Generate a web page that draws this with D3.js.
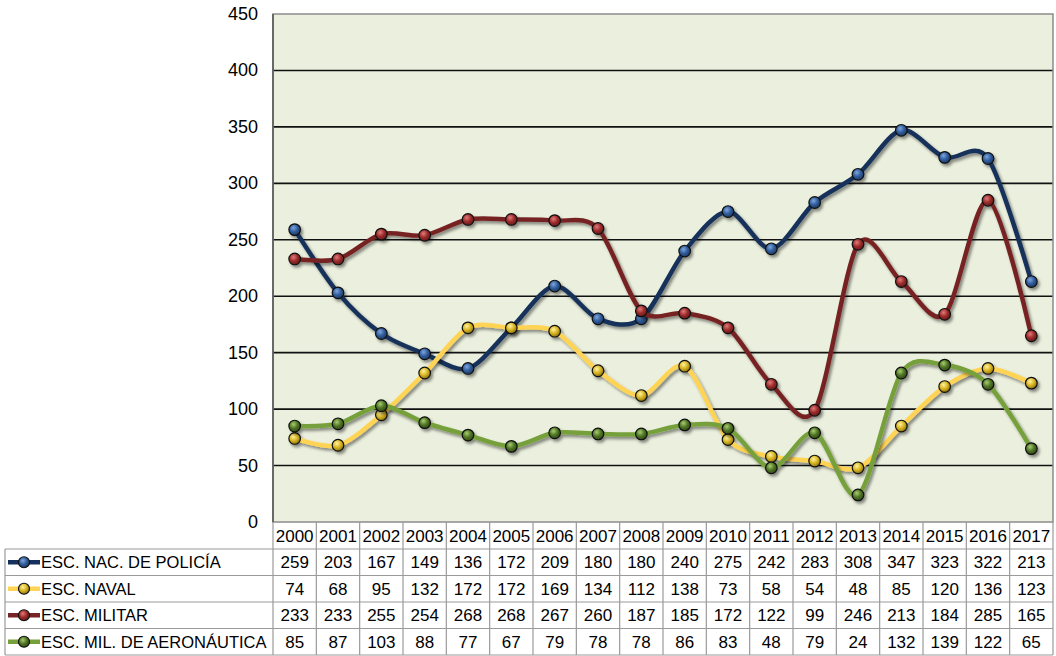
<!DOCTYPE html>
<html>
<head>
<meta charset="utf-8">
<script src="https://cdn.jsdelivr.net/npm/d3@7"></script>
<style>
  body { margin: 0; background: #fff; }
  svg { display: block; font-family: "Liberation Sans", Arial, sans-serif; }
</style>
</head>
<body>
<svg id="chart" width="1056" height="656"></svg>
<script>
// datos
var years = ["2000","2001","2002","2003","2004","2005","2006","2007","2008","2009","2010","2011","2012","2013","2014","2015","2016","2017"];
var policia = [259,203,167,149,136,172,209,180,180,240,275,242,283,308,347,323,322,213];
var naval = [74,68,95,132,172,172,169,134,112,138,73,58,54,48,85,120,136,123];
var militar = [233,233,255,254,268,268,267,260,187,185,172,122,99,246,213,184,285,165];
var aeronautica = [85,87,103,88,77,67,79,78,78,86,83,48,79,24,132,139,122,65];
var yTicks = [0,50,100,150,200,250,300,350,400,450];

var series = [
  { name: "ESC. NAC. DE POLICÍA", values: policia, line: "#15305a", dot: "#2f5c9c", light: "#7fa6dc", id: "pol" },
  { name: "ESC. NAVAL", values: naval, line: "#ffd455", dot: "#d8b420", light: "#fff3a0", id: "nav" },
  { name: "ESC. MILITAR", values: militar, line: "#772424", dot: "#9c2a2a", light: "#e07a7a", id: "mil" },
  { name: "ESC. MIL. DE AERONÁUTICA", values: aeronautica, line: "#76a03a", dot: "#4e7424", light: "#a8cc70", id: "aer" }
];

(function () {
  var svg = d3.select("#chart");
  var pLeft = 273, pRight = 1053, pTop = 14, pBottom = 522;
  var rowH = 26.5, headH = 27;

  var x = d3.scaleBand().domain(years).range([pLeft, pRight]);
  var y = d3.scaleLinear().domain([0, 450]).range([pBottom, pTop]);
  var cx = function (i) { return x(years[i]) + x.bandwidth() / 2; };

  var defs = svg.append("defs");
  var f = defs.append("filter").attr("id", "sh").attr("x", "-20%").attr("y", "-20%").attr("width", "140%").attr("height", "140%");
  f.append("feDropShadow").attr("dx", 2).attr("dy", 2.5).attr("stdDeviation", 1.6)
    .attr("flood-color", "#000").attr("flood-opacity", 0.45);

  series.forEach(function (s) {
    var g = defs.append("radialGradient").attr("id", "g-" + s.id)
      .attr("cx", "40%").attr("cy", "35%").attr("r", "65%");
    g.append("stop").attr("offset", "0%").attr("stop-color", s.light);
    g.append("stop").attr("offset", "55%").attr("stop-color", s.dot);
    g.append("stop").attr("offset", "100%").attr("stop-color", d3.color(s.dot).darker(1.2));
  });

  // fondo del área
  svg.append("rect").attr("x", pLeft).attr("y", pTop).attr("width", pRight - pLeft).attr("height", pBottom - pTop)
    .attr("fill", "#ebf0de");

  // líneas de cuadrícula
  svg.append("g").selectAll("line").data(yTicks.filter(function (d) { return d > 0 && d < 450; }))
    .join("line")
    .attr("x1", pLeft).attr("x2", pRight)
    .attr("y1", function (d) { return y(d); }).attr("y2", function (d) { return y(d); })
    .attr("stroke", "#111").attr("stroke-width", 1.6);

  // borde
  svg.append("rect").attr("x", pLeft).attr("y", pTop).attr("width", pRight - pLeft).attr("height", pBottom - pTop)
    .attr("fill", "none").attr("stroke", "#8c8c8c").attr("stroke-width", 1.5);
  svg.append("line").attr("x1", pLeft).attr("x2", pLeft).attr("y1", pTop).attr("y2", pBottom)
    .attr("stroke", "#555").attr("stroke-width", 1.5);

  // etiquetas eje y
  svg.append("g").selectAll("text").data(yTicks).join("text")
    .attr("x", 258).attr("y", function (d) { return y(d) + 6; })
    .attr("text-anchor", "end").attr("font-size", 18).attr("fill", "#000")
    .text(function (d) { return d; });

  // series
  var lineGen = d3.line()
    .x(function (d, i) { return cx(i); })
    .y(function (d) { return y(d); })
    .curve(d3.curveCardinal.tension(0.1));

  series.forEach(function (s) {
    var g = svg.append("g").attr("filter", "url(#sh)");
    g.append("path").attr("d", lineGen(s.values)).attr("fill", "none")
      .attr("stroke", s.line).attr("stroke-width", 4.5).attr("stroke-linecap", "round");
    g.selectAll("circle").data(s.values).join("circle")
      .attr("cx", function (d, i) { return cx(i); })
      .attr("cy", function (d) { return y(d); })
      .attr("r", 5.8)
      .attr("fill", "url(#g-" + s.id + ")")
      .attr("stroke", "#111").attr("stroke-width", 1.2);
  });

  // tabla de datos
  var tbl = svg.append("g");
  var tableLeft = 5;
  var tableBottom = pBottom + headH + rowH * series.length;
  var gridCol = "#9a9a9a";

  tbl.selectAll("text.yr").data(years).join("text").attr("class", "yr")
    .attr("x", function (d) { return x(d) + x.bandwidth() / 2; })
    .attr("y", pBottom + headH / 2 + 6)
    .attr("text-anchor", "middle").attr("font-size", 17).text(function (d) { return d; });

  tbl.selectAll("line.v").data(years.concat(["end"])).join("line").attr("class", "v")
    .attr("x1", function (d) { return d === "end" ? pRight : x(d); })
    .attr("x2", function (d) { return d === "end" ? pRight : x(d); })
    .attr("y1", pBottom).attr("y2", tableBottom)
    .attr("stroke", gridCol).attr("stroke-width", 1.2);
  tbl.append("line").attr("x1", tableLeft).attr("x2", tableLeft)
    .attr("y1", pBottom + headH).attr("y2", tableBottom).attr("stroke", gridCol).attr("stroke-width", 1.2);

  var hs = d3.range(series.length + 1).map(function (i) { return pBottom + headH + i * rowH; });
  tbl.selectAll("line.h").data(hs).join("line").attr("class", "h")
    .attr("x1", tableLeft).attr("x2", pRight)
    .attr("y1", function (d) { return d; }).attr("y2", function (d) { return d; })
    .attr("stroke", gridCol).attr("stroke-width", 1.2);

  series.forEach(function (s, r) {
    var cy = pBottom + headH + r * rowH + rowH / 2;
    var lg = tbl.append("g");
    lg.append("line").attr("x1", 8).attr("x2", 40).attr("y1", cy).attr("y2", cy)
      .attr("stroke", s.line).attr("stroke-width", 4.5);
    lg.append("circle").attr("cx", 24).attr("cy", cy).attr("r", 5.5)
      .attr("fill", "url(#g-" + s.id + ")").attr("stroke", "#111").attr("stroke-width", 1.2);
    lg.append("text").attr("x", 41).attr("y", cy + 6).attr("font-size", 16.5)
      .text(s.name);
    tbl.selectAll("text.v" + r).data(s.values).join("text").attr("class", "v" + r)
      .attr("x", function (d, i) { return cx(i); })
      .attr("y", cy + 6).attr("text-anchor", "middle").attr("font-size", 17)
      .text(function (d) { return d; });
  });
})();
</script>
</body>
</html>
